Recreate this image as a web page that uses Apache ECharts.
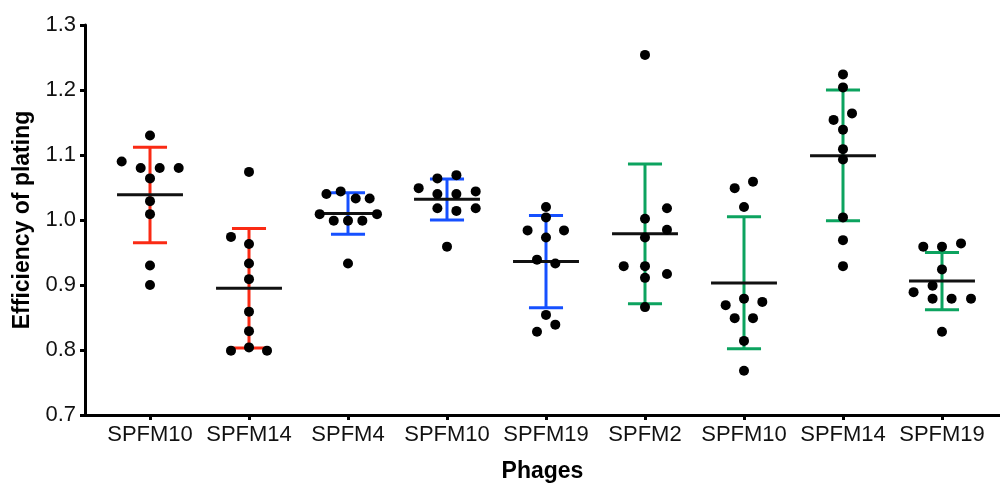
<!DOCTYPE html>
<html>
<head>
<meta charset="utf-8">
<script src="https://cdn.jsdelivr.net/npm/echarts@6/dist/echarts.min.js"></script>
<style>html,body{margin:0;padding:0;background:#fff}#c{width:1000px;height:484px}</style>
</head>
<body>
<div id="c"></div>
<script>
// ---- data ----
const categories = ['SPFM10','SPFM14','SPFM4','SPFM10','SPFM19','SPFM2','SPFM10','SPFM14','SPFM19'];
const yTicks = [0.7, 0.8, 0.9, 1.0, 1.1, 1.2, 1.3];

const g1Values = [1.13, 1.09, 1.08, 1.08, 1.08, 1.064, 1.029, 1.009, 0.93, 0.90];
const g2Values = [1.074, 0.974, 0.963, 0.933, 0.909, 0.859, 0.829, 0.799, 0.804, 0.799];
const g3Values = [1.040, 1.044, 1.033, 1.033, 1.009, 1.009, 0.999, 0.999, 0.999, 0.933];
const g4Values = [1.064, 1.069, 1.049, 1.040, 1.040, 1.044, 1.018, 1.014, 1.018, 0.959];
const g5Values = [1.020, 1.004, 0.984, 0.984, 0.973, 0.939, 0.933, 0.854, 0.839, 0.828];
const g6Values = [1.254, 1.002, 1.018, 0.985, 0.973, 0.929, 0.929, 0.911, 0.917, 0.866];
const g7Values = [1.049, 1.059, 1.020, 0.879, 0.869, 0.874, 0.849, 0.849, 0.814, 0.768];
const g8Values = [1.224, 1.204, 1.154, 1.164, 1.139, 1.109, 1.093, 1.004, 0.969, 0.929];
const g9Values = [0.959, 0.959, 0.964, 0.924, 0.899, 0.889, 0.879, 0.879, 0.879, 0.828];

// horizontal spread of the dots (in category units)
const g1Jitter = [0, -0.286, -0.094, 0.098, 0.29, 0, 0, 0, 0, 0];
const g2Jitter = [0, -0.182, 0, 0, 0, 0, 0, -0.182, 0, 0.182];
const g3Jitter = [-0.218, -0.074, 0.078, 0.219, -0.286, 0.293, -0.144, 0, 0.145, 0];
const g4Jitter = [-0.097, 0.095, -0.286, -0.097, 0.095, 0.29, -0.097, 0.095, 0.29, 0];
const g5Jitter = [0, 0, -0.186, 0.182, 0, -0.091, 0.094, 0, 0.094, -0.091];
const g6Jitter = [0, 0, 0.222, 0.222, 0, -0.215, 0, 0, 0.222, 0];
const g7Jitter = [-0.094, 0.091, 0, 0, -0.185, 0.185, -0.094, 0.091, 0, 0];
const g8Jitter = [0, 0, -0.095, 0.091, 0, 0, 0, 0, 0, 0];
const g9Jitter = [-0.189, 0, 0.192, 0, -0.095, -0.287, -0.095, 0.097, 0.293, 0];

// mean and mean ± SD as drawn
const means = [1.039, 0.895, 1.010, 1.032, 0.936, 0.979, 0.903, 1.099, 0.906];
const sdLow = [0.965, 0.803, 0.978, 1.000, 0.865, 0.871, 0.802, 0.999, 0.862];
const sdHigh = [1.112, 0.987, 1.042, 1.063, 1.007, 1.086, 1.005, 1.200, 0.950];

// ---- styles ----
const RED = '#FA2A14', BLUE = '#1650FF', GREEN = '#0CA35F';
const groupColors = [RED, RED, BLUE, BLUE, BLUE, GREEN, GREEN, GREEN, GREEN];

const allValues = [g1Values, g2Values, g3Values, g4Values, g5Values, g6Values, g7Values, g8Values, g9Values];
const allJitter = [g1Jitter, g2Jitter, g3Jitter, g4Jitter, g5Jitter, g6Jitter, g7Jitter, g8Jitter, g9Jitter];

const dots = [];
allValues.forEach((vals, i) => {
  vals.forEach((v, k) => dots.push([i + allJitter[i][k], v]));
});
const bars = means.map((m, i) => [i, m, sdLow[i], sdHigh[i]]);

const tickIdx = categories.map((_, i) => i);
const FONT = '"Liberation Sans", Arial, Helvetica, sans-serif';

const chart = echarts.init(document.getElementById('c'), null, {renderer: 'canvas'});
chart.setOption({
  animation: false,
  backgroundColor: '#fff',
  grid: {left: 85, right: 0, top: 25, bottom: 69, containLabel: false, outerBoundsMode: 'none'},
  xAxis: {
    type: 'value',
    min: -0.6566,
    max: 8.5859,
    name: 'Phages',
    nameLocation: 'middle',
    nameGap: 45,
    nameTextStyle: {fontFamily: FONT, fontSize: 23, fontWeight: 'bold', color: '#000'},
    splitLine: {show: false},
    axisLine: {show: true, onZero: false, lineStyle: {color: '#000', width: 3}},
    axisTick: {show: true, customValues: tickIdx, length: 5, lineStyle: {color: '#000', width: 3}},
    axisLabel: {
      customValues: tickIdx,
      margin: 9,
      fontFamily: FONT, fontSize: 22, color: '#111',
      formatter: v => categories[Math.round(v)]
    }
  },
  yAxis: {
    type: 'value',
    min: 0.7,
    max: 1.3,
    interval: 0.1,
    name: 'Efficiency of plating',
    nameLocation: 'middle',
    nameGap: 50,
    nameTextStyle: {fontFamily: FONT, fontSize: 23, fontWeight: 'bold', color: '#000'},
    splitLine: {show: false},
    axisLine: {show: true, onZero: false, lineStyle: {color: '#000', width: 3}},
    axisTick: {show: true, length: 5, lineStyle: {color: '#000', width: 3}},
    axisLabel: {
      margin: 9,
      fontFamily: FONT, fontSize: 22, color: '#111',
      formatter: v => yTicks.find(t => Math.abs(t - v) < 1e-6).toFixed(1)
    }
  },
  series: [
    {
      type: 'custom',
      z: 2,
      data: bars,
      renderItem: function (params, api) {
        const x = api.value(0);
        const idx = params.dataIndex;
        const col = groupColors[idx];
        const hi = api.coord([x, api.value(3)]);
        const lo = api.coord([x, api.value(2)]);
        const mid = api.coord([x, api.value(1)]);
        const capHalf = api.size([0.172, 0])[0];
        const meanHalf = api.size([0.333, 0])[0];
        const ls = {stroke: col, lineWidth: 3};
        return {
          type: 'group',
          children: [
            {type: 'line', shape: {x1: hi[0], y1: hi[1], x2: lo[0], y2: lo[1]}, style: ls},
            {type: 'line', shape: {x1: hi[0] - capHalf, y1: hi[1], x2: hi[0] + capHalf, y2: hi[1]}, style: ls},
            {type: 'line', shape: {x1: lo[0] - capHalf, y1: lo[1], x2: lo[0] + capHalf, y2: lo[1]}, style: ls},
            {type: 'line', shape: {x1: mid[0] - meanHalf, y1: mid[1], x2: mid[0] + meanHalf, y2: mid[1]}, style: {stroke: '#111', lineWidth: 3}}
          ]
        };
      }
    },
    {
      type: 'scatter',
      z: 3,
      symbol: 'circle',
      symbolSize: 10,
      itemStyle: {color: '#000', opacity: 1},
      data: dots
    }
  ]
});
</script>
</body>
</html>
